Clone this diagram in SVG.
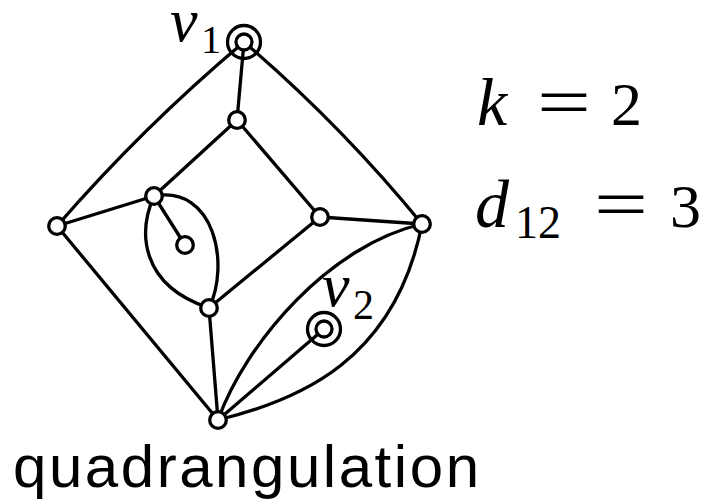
<svg xmlns="http://www.w3.org/2000/svg" width="711" height="503" viewBox="0 0 711 503">
<style>
.e{fill:none;stroke:#000;stroke-width:3.3;stroke-linecap:round}
.n{fill:#fff;stroke:#000;stroke-width:3.3}
.r{fill:none;stroke:#000;stroke-width:3.3}
.m{font-family:"Liberation Serif","Times New Roman",serif;fill:#000}
.i{font-style:italic}
.s{font-family:"Liberation Sans",Arial,sans-serif;fill:#000}
</style>
<rect width="711" height="503" fill="#fff"/>
<g id="edges">
<path class="e" d="M244,42 Q143,127 57,226"/>
<path class="e" d="M244,42 Q341,125 422,224"/>
<path class="e" d="M244,42 L237,120"/>
<path class="e" d="M237,120 L154,196"/>
<path class="e" d="M237,120 L320,217"/>
<path class="e" d="M154,196 L57,226"/>
<path class="e" d="M320,217 L422,224"/>
<path class="e" d="M154,196 L185,245"/>
<path class="e" d="M320,217 L209,308"/>
<path class="e" d="M154,196 C138,232 140,285 209,308"/>
<path class="e" d="M154,196 C215,185 230,265 209,308"/>
<path class="e" d="M209,308 L218,420"/>
<path class="e" d="M57,226 L218,420"/>
<path class="e" d="M218,420 C246,342 330,245 422,224"/>
<path class="e" d="M218,420 L324,329"/>
<path class="e" d="M218,420 C300,400 395,360 422,224"/>
</g>
<g id="v1"><circle class="r" cx="244" cy="42" r="16.5"/><circle class="n" cx="244" cy="42" r="8"/></g>
<g id="nA"><circle class="n" cx="237" cy="120" r="8.3"/></g>
<g id="nB"><circle class="n" cx="154" cy="196" r="8.3"/></g>
<g id="nC"><circle class="n" cx="57" cy="226" r="8.3"/></g>
<g id="nD"><circle class="n" cx="320" cy="217" r="8.3"/></g>
<g id="nE"><circle class="n" cx="422" cy="224" r="8.3"/></g>
<g id="nF"><circle class="n" cx="185" cy="245" r="8.3"/></g>
<g id="nG"><circle class="n" cx="209" cy="308" r="8.3"/></g>
<g id="v2"><circle class="r" cx="324" cy="329" r="16.5"/><circle class="n" cx="324" cy="329" r="8"/></g>
<g id="nH"><circle class="n" cx="218" cy="420" r="8.3"/></g>
<g id="labels">
<text class="m i" x="170" y="41" font-size="62">v</text>
<text class="m" x="201" y="53" font-size="40">1</text>
<text class="m i" x="322" y="306" font-size="62">v</text>
<text class="m" x="353" y="319" font-size="42">2</text>
<text class="m i" x="477" y="125" font-size="68">k</text>
<text class="m" x="537" y="126" font-size="70" textLength="54" lengthAdjust="spacingAndGlyphs">=</text>
<text class="m" x="611" y="125" font-size="62">2</text>
<text class="m i" x="475" y="227" font-size="68">d</text>
<text class="m" x="515" y="238" font-size="46">12</text>
<text class="m" x="594" y="228" font-size="70" textLength="54" lengthAdjust="spacingAndGlyphs">=</text>
<text class="m" x="670" y="227" font-size="62">3</text>
<text class="s" x="13" y="487" font-size="60" textLength="466" lengthAdjust="spacing">quadrangulation</text>
</g>
</svg>
